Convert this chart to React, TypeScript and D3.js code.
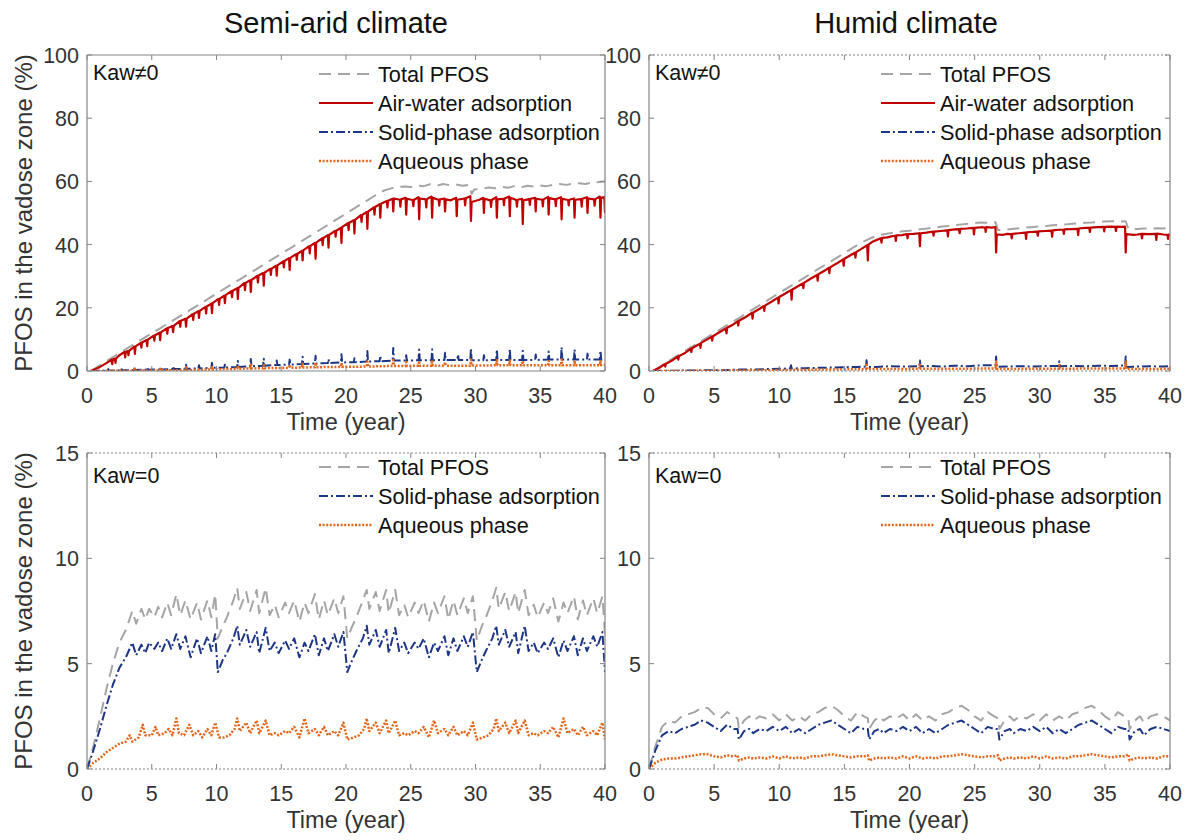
import React from "react";
import * as d3 from "d3";

type P = [number, number];

// ---------- tick labels ----------
const TIME_TICKS = [0, 5, 10, 15, 20, 25, 30, 35, 40];
const TOP_Y_TICKS = [0, 20, 40, 60, 80, 100];
const BOT_Y_TICKS = [0, 5, 10, 15];

// ---------- Semi-arid, Kaw != 0 ----------
const SA_K_TOTAL: P[] = [[0.3,0],[1,1.8],[2,4.4],[3,6.9],[4,9.4],[5,11.9],[6,14.4],[7,16.9],[8,19.4],[9,21.9],[10,24.5],[11,27.0],[12,29.5],[13,32.0],[14,34.6],[15,37.1],[16,39.6],[17,42.2],[18,44.7],[19,47.3],[20,49.8],[21,52.4],[22,54.9],[22.5,56.2],[23,57.2],[23.5,57.8],[24,58.2],[24.5,58.4],[25,58.2],[25.5,58.7],[26,58.5],[26.5,59.1],[27,58.6],[27.5,59.2],[28,58.8],[28.5,59.0],[29,58.6],[29.5,58.9],[29.7,56.0],[29.9,57.4],[30.5,57.6],[31,58.1],[31.5,57.8],[32,58.3],[32.5,58.0],[33,58.5],[33.5,58.1],[34,58.6],[34.5,58.4],[35,58.7],[35.5,58.5],[36,58.9],[36.5,59.2],[37,58.9],[37.5,59.3],[38,59.4],[38.5,59.2],[39,59.6],[39.5,59.8],[40,60.0]];
const SA_K_AIR: P[] = [[0.3,0],[1,1.3],[1.5,2.5],[1.9,3.6],[1.95,2.2],[2.0,3.7],[2.15,3.9],[2.2,2.6],[2.25,4.0],[2.5,5.0],[2.9,6.0],[2.95,4.3],[3.0,6.1],[3.15,6.3],[3.2,5.0],[3.25,6.4],[3.65,7.7],[3.7,5.4],[3.75,7.8],[4.15,8.9],[4.2,7.4],[4.25,9.0],[4.6,9.8],[4.65,7.9],[4.7,9.9],[5.15,11.2],[5.2,9.6],[5.25,11.3],[5.6,12.1],[5.65,9.8],[5.7,12.2],[6.15,13.5],[6.2,11.8],[6.25,13.6],[6.6,14.2],[6.65,12.3],[6.7,14.3],[7.15,15.8],[7.2,14.0],[7.25,15.9],[7.6,16.5],[7.65,14.0],[7.7,16.6],[8.15,18.0],[8.2,16.2],[8.25,18.1],[8.6,18.9],[8.65,16.8],[8.7,19.0],[9.15,20.3],[9.2,18.2],[9.25,20.4],[9.6,21.3],[9.65,18.3],[9.7,21.5],[10.15,22.8],[10.2,20.9],[10.25,22.9],[10.6,23.8],[10.65,21.5],[10.7,24.0],[11.15,25.3],[11.2,23.4],[11.25,25.4],[11.6,26.2],[11.65,22.8],[11.7,26.3],[12.15,27.8],[12.2,25.6],[12.25,27.9],[12.6,28.7],[12.65,25.0],[12.7,28.8],[13.15,30.1],[13.2,28.0],[13.25,30.2],[13.6,31.0],[13.65,27.0],[13.7,31.1],[14.15,32.3],[14.2,30.4],[14.25,32.4],[14.6,33.3],[14.65,30.2],[14.7,33.4],[15.15,34.7],[15.2,32.8],[15.25,34.8],[15.6,35.7],[15.65,32.0],[15.7,35.8],[16.15,37.0],[16.2,35.2],[16.25,37.1],[16.6,38.0],[16.65,35.0],[16.7,38.2],[17.15,39.5],[17.2,37.2],[17.25,39.6],[17.6,40.5],[17.65,35.5],[17.7,40.6],[18.15,42.0],[18.2,39.8],[18.25,42.1],[18.6,43.0],[18.65,39.0],[18.7,43.1],[19.15,44.3],[19.2,42.5],[19.25,44.4],[19.6,45.3],[19.65,40.5],[19.7,45.5],[20.15,46.8],[20.2,44.6],[20.25,46.9],[20.6,47.7],[20.65,43.5],[20.7,47.8],[21.15,49.3],[21.2,47.2],[21.25,49.4],[21.6,50.3],[21.65,45.0],[21.7,50.4],[22.15,51.8],[22.2,49.5],[22.25,51.9],[22.6,52.8],[22.65,48.5],[22.7,52.9],[23.15,53.8],[23.2,51.8],[23.25,53.9],[23.6,54.5],[23.65,50.5],[23.7,54.6],[24.15,54.2],[24.2,52.0],[24.25,54.3],[24.6,54.8],[24.65,49.5],[24.7,54.5],[25.15,54.1],[25.2,52.2],[25.25,54.2],[25.6,55.0],[25.65,48.0],[25.7,54.6],[26.15,54.3],[26.2,51.8],[26.25,54.4],[26.6,55.2],[26.65,48.5],[26.7,54.8],[27.15,54.2],[27.2,52.3],[27.25,54.3],[27.6,54.6],[27.65,50.5],[27.7,54.3],[28.1,54.0],[28.5,54.8],[28.55,49.0],[28.6,54.2],[29.15,54.6],[29.2,52.4],[29.25,54.7],[29.6,55.3],[29.65,47.5],[29.7,53.5],[30.3,54.2],[30.6,54.8],[30.65,50.0],[30.7,54.5],[31.15,54.0],[31.2,51.9],[31.25,54.1],[31.6,55.0],[31.65,48.5],[31.7,54.3],[32.15,54.5],[32.2,52.5],[32.25,54.6],[32.6,55.2],[32.65,49.0],[32.7,54.8],[33.15,54.1],[33.2,52.0],[33.25,54.2],[33.6,54.5],[33.65,46.5],[33.7,54.0],[34.15,54.4],[34.2,52.6],[34.25,54.5],[34.6,54.8],[34.65,50.5],[34.7,54.5],[35.15,54.2],[35.2,52.1],[35.25,54.3],[35.6,55.1],[35.65,49.5],[35.7,54.7],[36.15,54.3],[36.2,52.2],[36.25,54.4],[36.6,55.0],[36.65,48.0],[36.7,54.5],[37.15,54.1],[37.2,52.4],[37.25,54.2],[37.6,54.6],[37.65,48.5],[37.7,54.2],[38.15,54.4],[38.2,52.0],[38.25,54.5],[38.6,55.0],[38.65,50.0],[38.7,54.6],[39.15,54.3],[39.2,52.3],[39.25,54.4],[39.6,55.2],[39.65,48.5],[39.7,54.8],[39.95,55.0],[40,50.0]];
const SA_K_SOLID: P[] = [[0.3,0],[1,0.1],[1.6,0.1],[1.65,0.6],[1.7,0.1],[2.6,0.2],[2.65,0.8],[2.7,0.2],[3.6,0.3],[3.65,1.2],[3.7,0.3],[4.6,0.4],[4.65,1.1],[4.7,0.4],[5.6,0.5],[5.65,1.3],[5.7,0.5],[6.6,0.6],[6.65,1.5],[6.7,0.6],[7.6,0.7],[7.65,2.0],[7.7,0.7],[8.6,0.8],[8.65,1.8],[8.7,0.8],[9.6,1.0],[9.65,2.6],[9.7,1.0],[10.6,1.1],[10.65,2.0],[10.7,1.1],[11.6,1.3],[11.65,3.2],[11.7,1.3],[12.6,1.5],[12.65,3.8],[12.7,1.5],[13.6,1.7],[13.65,3.9],[13.7,1.7],[14.6,1.9],[14.65,3.3],[14.7,1.9],[15.6,2.0],[15.65,3.6],[15.7,2.0],[16.6,2.2],[16.65,4.5],[16.7,2.2],[17.6,2.4],[17.65,4.8],[17.7,2.4],[18.6,2.5],[18.65,3.8],[18.7,2.5],[19.6,2.7],[19.65,5.3],[19.7,2.7],[20.6,2.8],[20.65,4.0],[20.7,2.8],[21.6,3.0],[21.65,6.3],[21.7,3.0],[22.6,3.1],[22.65,4.8],[22.7,3.1],[23.6,3.3],[23.65,7.3],[23.7,3.3],[24.6,3.3],[24.65,5.0],[24.7,3.3],[25.6,3.4],[25.65,6.8],[25.7,3.4],[26.6,3.4],[26.65,6.9],[26.7,3.4],[27.6,3.5],[27.65,5.8],[27.7,3.5],[28.6,3.5],[28.65,5.2],[28.7,3.5],[29.6,3.5],[29.65,7.2],[29.7,3.4],[30.6,3.4],[30.65,5.0],[30.7,3.4],[31.6,3.5],[31.65,6.8],[31.7,3.5],[32.6,3.5],[32.65,7.0],[32.7,3.5],[33.6,3.5],[33.65,6.4],[33.7,3.5],[34.6,3.5],[34.65,5.2],[34.7,3.5],[35.6,3.6],[35.65,6.2],[35.7,3.6],[36.6,3.6],[36.65,7.5],[36.7,3.6],[37.6,3.6],[37.65,6.8],[37.7,3.6],[38.6,3.6],[38.65,5.5],[38.7,3.6],[39.6,3.6],[39.65,6.5],[39.7,3.6],[40,3.8]];
const SA_K_AQUEOUS: P[] = [[0.3,0],[2,0.05],[3.6,0.1],[3.65,0.7],[3.7,0.1],[5.6,0.2],[5.65,0.7],[5.7,0.2],[7.6,0.3],[7.65,1.1],[7.7,0.3],[9.6,0.5],[9.65,1.2],[9.7,0.5],[11.6,0.7],[11.65,1.7],[11.7,0.7],[12.6,0.8],[12.65,2.0],[12.7,0.8],[13.6,0.9],[13.65,1.8],[13.7,0.9],[15.6,1.0],[15.65,2.0],[15.7,1.0],[16.6,1.1],[16.65,2.4],[16.7,1.1],[17.6,1.2],[17.65,2.6],[17.7,1.2],[19.6,1.3],[19.65,2.6],[19.7,1.3],[21.6,1.4],[21.65,3.0],[21.7,1.4],[23.6,1.6],[23.65,3.5],[23.7,1.6],[24.6,1.6],[24.65,2.8],[24.7,1.6],[25.6,1.7],[25.65,3.2],[25.7,1.7],[26.6,1.7],[26.65,3.4],[26.7,1.7],[27.6,1.7],[27.65,2.8],[27.7,1.7],[29.6,1.7],[29.65,3.6],[29.7,1.7],[31.6,1.8],[31.65,3.4],[31.7,1.8],[32.6,1.8],[32.65,3.3],[32.7,1.8],[33.6,1.8],[33.65,3.2],[33.7,1.8],[35.6,1.8],[35.65,3.2],[35.7,1.8],[36.6,1.8],[36.65,3.7],[36.7,1.8],[37.6,1.8],[37.65,3.3],[37.7,1.8],[39.6,1.8],[39.65,3.2],[39.7,1.8],[40,2.0]];

// ---------- Humid, Kaw != 0 ----------
const HU_K_TOTAL: P[] = [[0.3,0],[1,1.8],[2,4.4],[3,6.9],[4,9.4],[5,12.0],[6,14.5],[7,17.0],[8,19.6],[9,22.1],[10,24.7],[11,27.2],[12,29.7],[13,32.3],[14,34.8],[15,37.3],[16,39.9],[16.5,41.0],[17,42.0],[17.5,42.8],[18,43.3],[18.5,43.6],[19,43.9],[19.5,44.2],[20,44.4],[20.5,44.7],[21,44.9],[21.5,45.2],[22,45.4],[22.5,45.7],[23,45.9],[23.5,46.2],[24,46.4],[24.5,46.6],[25,46.8],[25.5,47.0],[26,46.9],[26.6,47.1],[26.8,44.6],[27.5,44.8],[28,45.0],[28.5,45.2],[29,45.4],[29.5,45.6],[30,45.8],[30.5,45.9],[31,46.1],[31.5,46.3],[32,46.4],[32.5,46.6],[33,46.7],[33.5,46.9],[34,47.0],[34.5,47.2],[35,47.3],[35.5,47.4],[36,47.3],[36.6,47.4],[36.8,45.0],[37.5,44.9],[38,45.1],[38.5,45.0],[39,45.2],[39.5,45.1],[40,45.3]];
const HU_K_AIR: P[] = [[0.3,0],[0.8,1.0],[1.2,2.2],[1.25,1.4],[1.3,2.3],[1.8,3.4],[2.2,4.6],[2.25,3.6],[2.3,4.7],[2.8,5.8],[3.2,7.1],[3.25,6.0],[3.3,7.2],[3.8,8.4],[3.9,8.6],[3.95,7.3],[4.0,8.9],[4.5,10.1],[4.8,10.8],[4.85,9.6],[4.9,11.0],[5.5,12.5],[5.9,13.5],[5.95,11.9],[6.0,13.7],[6.5,14.8],[6.8,15.7],[6.85,14.4],[6.9,15.9],[7.4,17.0],[7.9,18.4],[7.95,16.6],[8.0,18.5],[8.5,19.7],[8.8,20.5],[8.85,19.0],[8.9,20.7],[9.4,21.9],[9.9,23.2],[9.95,21.4],[10.0,23.4],[10.5,24.6],[10.9,25.6],[10.95,22.6],[11.0,25.8],[11.5,27.0],[11.8,27.7],[11.85,26.2],[11.9,27.9],[12.4,29.2],[12.9,30.4],[12.95,28.6],[13.0,30.6],[13.5,31.8],[13.8,32.6],[13.85,31.0],[13.9,32.8],[14.4,34.0],[14.9,35.3],[14.95,33.3],[15.0,35.5],[15.5,36.7],[15.8,37.4],[15.85,35.9],[15.9,37.6],[16.4,38.9],[16.75,39.8],[16.8,35.0],[16.85,40.0],[17.2,41.0],[17.5,41.5],[17.8,42.0],[17.85,40.6],[17.9,42.1],[18.3,42.3],[18.6,42.6],[18.9,42.8],[18.95,41.2],[19.0,42.9],[19.4,43.0],[19.8,43.3],[19.85,42.0],[19.9,43.3],[20.3,43.4],[20.75,43.6],[20.8,39.5],[20.85,43.6],[21.3,43.8],[21.8,44.1],[21.85,42.8],[21.9,44.1],[22.4,44.3],[22.9,44.5],[22.95,42.6],[23.0,44.6],[23.5,44.8],[23.8,44.9],[23.85,43.6],[23.9,45.0],[24.4,45.1],[24.9,45.3],[24.95,43.2],[25.0,45.3],[25.5,45.5],[25.8,45.4],[25.85,44.0],[25.9,45.5],[26.3,45.4],[26.6,45.5],[26.65,37.5],[26.7,43.2],[27.2,43.1],[27.5,43.4],[27.8,43.3],[27.85,42.0],[27.9,43.4],[28.4,43.6],[28.9,43.8],[28.95,41.8],[29.0,43.9],[29.5,44.0],[29.8,44.1],[29.85,42.8],[29.9,44.2],[30.4,44.3],[30.9,44.4],[30.95,42.5],[31.0,44.5],[31.5,44.7],[31.8,44.7],[31.85,43.4],[31.9,44.8],[32.4,44.9],[32.9,45.0],[32.95,43.0],[33.0,45.1],[33.5,45.3],[33.8,45.3],[33.85,44.0],[33.9,45.4],[34.4,45.5],[34.9,45.6],[34.95,44.2],[35.0,45.6],[35.5,45.7],[35.8,45.6],[35.85,44.3],[35.9,45.7],[36.3,45.6],[36.55,45.7],[36.6,37.5],[36.65,43.3],[37.2,43.1],[37.5,43.2],[37.8,43.4],[37.85,42.0],[37.9,43.4],[38.4,43.3],[38.9,43.4],[38.95,41.5],[39.0,43.5],[39.5,43.2],[39.8,43.1],[39.85,41.8],[39.9,43.2],[40,43.0]];
const HU_K_SOLID: P[] = [[0.3,0],[2,0.1],[4,0.2],[6,0.3],[7,0.45],[8,0.5],[9,0.6],[10,0.7],[10.85,0.8],[10.9,1.8],[10.95,0.8],[12,0.9],[13,1.0],[14,1.1],[15,1.2],[16,1.3],[16.65,1.4],[16.7,3.4],[16.75,1.3],[17.5,1.3],[18.5,1.5],[19.5,1.4],[20.75,1.5],[20.8,3.3],[20.85,1.5],[21.5,1.6],[22.5,1.4],[23.5,1.7],[24.5,1.5],[25.5,1.8],[26.6,1.8],[26.65,4.6],[26.7,1.3],[27.5,1.4],[28.5,1.5],[29.5,1.4],[30.5,1.6],[31.45,1.6],[31.5,3.1],[31.55,1.5],[32.5,1.6],[33.5,1.5],[34.5,1.7],[35.5,1.6],[36.55,1.8],[36.6,4.6],[36.65,1.3],[37.5,1.4],[38.5,1.5],[39.5,1.4],[40,1.6]];
const HU_K_AQUEOUS: P[] = [[0.3,0],[5,0.1],[10,0.3],[12,0.4],[16.65,0.6],[16.7,2.5],[16.75,0.6],[18,0.6],[20.75,0.7],[20.8,2.0],[20.85,0.7],[23,0.7],[26.6,0.8],[26.65,3.0],[26.7,0.6],[29,0.7],[31.45,0.7],[31.5,1.9],[31.55,0.7],[34,0.8],[36.55,0.8],[36.6,3.0],[36.65,0.6],[38,0.6],[40,0.7]];

// ---------- Semi-arid, Kaw = 0 ----------
const SA_0_TOTAL: P[] = [[0,0],[0.5,1.1],[1,2.4],[1.5,3.8],[2,5.0],[2.5,6.0],[3,6.6],[3.5,7.5],[3.8,6.9],[4.2,7.6],[4.5,7.1],[4.8,7.6],[5.2,7.2],[5.5,7.7],[5.8,7.2],[6.2,7.9],[6.5,7.3],[6.9,8.3],[7.2,7.3],[7.6,8.0],[8,7.1],[8.5,7.9],[8.8,7.1],[9.3,8.0],[9.6,7.2],[9.9,8.3],[10.1,6.2],[10.5,6.8],[10.8,7.2],[11.3,8.0],[11.6,8.6],[11.8,7.6],[12.3,8.4],[12.6,7.5],[13.1,8.5],[13.3,7.4],[13.8,8.6],[14.1,7.3],[14.5,7.8],[14.8,7.2],[15.3,7.9],[15.6,7.4],[16,8.0],[16.4,7.0],[16.8,7.9],[17.1,7.4],[17.6,8.3],[17.9,7.1],[18.3,8.0],[18.6,7.3],[19.1,8.1],[19.4,7.4],[19.8,8.2],[20.1,6.2],[20.5,6.8],[20.8,7.2],[21.3,8.0],[21.6,8.5],[21.8,7.6],[22.3,8.4],[22.6,7.5],[23.1,8.5],[23.3,7.4],[23.8,8.5],[24.1,7.3],[24.5,7.8],[24.8,7.2],[25.3,7.9],[25.6,7.4],[26,8.0],[26.4,7.0],[26.8,7.9],[27.1,7.4],[27.6,8.2],[27.9,7.1],[28.3,8.0],[28.6,7.3],[29.1,8.1],[29.4,7.4],[29.8,8.2],[30.1,6.1],[30.5,6.8],[30.8,7.2],[31.3,8.0],[31.6,8.6],[31.8,7.6],[32.3,8.4],[32.6,7.5],[33.1,8.4],[33.3,7.4],[33.8,8.5],[34.1,7.3],[34.5,7.8],[34.8,7.2],[35.3,7.9],[35.6,7.4],[36,8.1],[36.4,7.0],[36.8,7.9],[37.1,7.4],[37.6,8.2],[37.9,7.1],[38.3,8.0],[38.6,7.3],[39.1,8.1],[39.4,7.4],[39.8,8.2],[40,6.4]];
const SA_0_SOLID: P[] = [[0,0],[0.5,0.9],[1,1.9],[1.5,3.0],[2,4.0],[2.5,4.8],[3,5.3],[3.5,6.0],[3.8,5.4],[4.2,5.9],[4.5,5.5],[4.8,6.0],[5.2,5.7],[5.5,6.0],[5.8,5.6],[6.2,6.2],[6.5,5.7],[6.9,6.4],[7.2,5.7],[7.6,6.3],[8,5.3],[8.5,6.2],[8.8,5.5],[9.3,6.3],[9.6,5.6],[9.9,6.4],[10.1,4.6],[10.5,5.2],[10.8,5.5],[11.3,6.2],[11.6,6.8],[11.8,5.9],[12.3,6.6],[12.6,5.8],[13.1,6.5],[13.3,5.5],[13.8,6.7],[14.1,5.6],[14.5,6.0],[14.8,5.5],[15.3,6.1],[15.6,5.7],[16,6.2],[16.4,5.3],[16.8,6.0],[17.1,5.6],[17.6,6.4],[17.9,5.4],[18.3,6.2],[18.6,5.6],[19.1,6.4],[19.4,5.8],[19.8,6.5],[20.1,4.6],[20.5,5.2],[20.8,5.6],[21.3,6.2],[21.6,6.8],[21.8,5.9],[22.3,6.6],[22.6,5.8],[23.1,6.6],[23.3,5.5],[23.8,6.7],[24.1,5.6],[24.5,6.0],[24.8,5.5],[25.3,6.0],[25.6,5.7],[26,6.2],[26.4,5.3],[26.8,6.0],[27.1,5.6],[27.6,6.3],[27.9,5.4],[28.3,6.2],[28.6,5.6],[29.1,6.3],[29.4,5.8],[29.8,6.5],[30.1,4.6],[30.5,5.2],[30.8,5.6],[31.3,6.2],[31.6,6.8],[31.8,5.9],[32.3,6.6],[32.6,5.8],[33.1,6.5],[33.3,5.5],[33.8,6.8],[34.1,5.6],[34.5,6.0],[34.8,5.5],[35.3,6.0],[35.6,5.7],[36,6.2],[36.4,5.3],[36.8,6.1],[37.1,5.6],[37.6,6.3],[37.9,5.4],[38.3,6.2],[38.6,5.6],[39.1,6.3],[39.4,5.8],[39.8,6.5],[40,4.6]];
const SA_0_AQUEOUS: P[] = [[0,0],[0.5,0.3],[1,0.5],[1.5,0.8],[2,1.0],[2.5,1.2],[3,1.3],[3.3,1.6],[3.5,1.3],[4,1.5],[4.3,2.1],[4.5,1.6],[5,1.6],[5.3,2.0],[5.5,1.6],[6,1.7],[6.3,1.9],[6.6,1.6],[6.9,2.4],[7.1,1.7],[7.5,1.6],[7.9,2.1],[8.2,1.6],[8.6,1.8],[8.9,1.5],[9.3,1.9],[9.6,1.6],[9.9,2.2],[10.2,1.5],[10.6,1.5],[11,1.6],[11.4,1.9],[11.6,2.4],[11.8,1.8],[12.3,2.2],[12.6,1.7],[13.1,2.3],[13.3,1.7],[13.8,2.3],[14.1,1.6],[14.5,1.7],[14.8,1.6],[15.3,1.8],[15.6,1.7],[16.0,2.0],[16.4,1.5],[16.8,2.4],[17.1,1.7],[17.6,1.9],[17.9,1.6],[18.3,2.0],[18.6,1.6],[19.1,1.8],[19.4,1.6],[19.8,2.2],[20.1,1.4],[20.6,1.5],[21,1.6],[21.4,1.9],[21.6,2.4],[21.8,1.8],[22.3,2.2],[22.6,1.7],[23.1,2.3],[23.3,1.7],[23.8,2.3],[24.1,1.6],[24.5,1.7],[24.8,1.6],[25.3,1.8],[25.6,1.7],[26.0,2.0],[26.4,1.5],[26.8,2.3],[27.1,1.7],[27.6,1.9],[27.9,1.6],[28.3,2.0],[28.6,1.6],[29.1,1.8],[29.4,1.6],[29.8,2.2],[30.1,1.4],[30.6,1.5],[31,1.6],[31.4,1.9],[31.6,2.4],[31.8,1.8],[32.3,2.2],[32.6,1.7],[33.1,2.3],[33.3,1.7],[33.8,2.3],[34.1,1.6],[34.5,1.7],[34.8,1.6],[35.3,1.8],[35.6,1.7],[36.0,2.0],[36.4,1.5],[36.8,2.4],[37.1,1.7],[37.6,1.9],[37.9,1.6],[38.3,2.0],[38.6,1.6],[39.1,1.8],[39.4,1.6],[39.8,2.2],[40,1.4]];

// ---------- Humid, Kaw = 0 ----------
const HU_0_TOTAL: P[] = [[0,0],[0.5,1.1],[1,2.0],[1.5,2.3],[2,2.2],[2.5,2.5],[3,2.6],[3.5,2.7],[4,2.9],[4.5,2.9],[5,2.6],[5.5,2.4],[6,2.7],[6.5,2.5],[6.8,2.4],[6.9,1.9],[7.3,2.3],[7.7,2.5],[8,2.3],[8.5,2.5],[9,2.4],[9.5,2.6],[10,2.3],[10.5,2.6],[11,2.3],[11.5,2.5],[12,2.3],[12.5,2.6],[13,2.7],[13.5,2.9],[14,3.0],[14.5,2.8],[15,2.5],[15.5,2.3],[16,2.7],[16.5,2.5],[16.8,2.4],[16.9,1.9],[17.3,2.3],[17.7,2.5],[18,2.3],[18.5,2.5],[19,2.4],[19.5,2.6],[20,2.3],[20.5,2.6],[21,2.3],[21.5,2.5],[22,2.3],[22.5,2.6],[23,2.7],[23.5,2.9],[24,3.0],[24.5,2.8],[25,2.5],[25.5,2.3],[26,2.7],[26.5,2.5],[26.8,2.4],[26.9,1.9],[27.3,2.3],[27.7,2.5],[28,2.3],[28.5,2.5],[29,2.4],[29.5,2.6],[30,2.3],[30.5,2.6],[31,2.3],[31.5,2.5],[32,2.3],[32.5,2.6],[33,2.7],[33.5,2.9],[34,3.0],[34.5,2.8],[35,2.5],[35.5,2.3],[36,2.7],[36.5,2.5],[36.8,2.4],[36.9,1.9],[37.3,2.3],[37.7,2.5],[38,2.2],[38.5,2.5],[39,2.6],[39.5,2.5],[40,2.3]];
const HU_0_SOLID: P[] = [[0,0],[0.5,0.9],[1,1.6],[1.5,1.8],[2,1.7],[2.5,1.9],[3,2.0],[3.5,2.1],[4,2.3],[4.5,2.2],[5,2.0],[5.5,1.8],[6,2.1],[6.5,1.9],[6.8,1.9],[6.9,1.4],[7.3,1.8],[7.7,1.9],[8,1.7],[8.5,1.9],[9,1.8],[9.5,2.0],[10,1.8],[10.5,2.0],[11,1.7],[11.5,1.9],[12,1.7],[12.5,1.9],[13,2.1],[13.5,2.2],[14,2.3],[14.5,2.1],[15,1.9],[15.5,1.7],[16,2.0],[16.5,1.9],[16.8,1.9],[16.9,1.4],[17.3,1.8],[17.7,1.9],[18,1.7],[18.5,1.9],[19,1.8],[19.5,2.0],[20,1.8],[20.5,2.0],[21,1.7],[21.5,1.9],[22,1.7],[22.5,1.9],[23,2.1],[23.5,2.2],[24,2.3],[24.5,2.1],[25,1.9],[25.5,1.7],[26,2.0],[26.5,1.9],[26.8,1.9],[26.9,1.4],[27.3,1.8],[27.7,1.9],[28,1.7],[28.5,1.9],[29,1.8],[29.5,2.0],[30,1.8],[30.5,2.0],[31,1.7],[31.5,1.9],[32,1.7],[32.5,1.9],[33,2.1],[33.5,2.2],[34,2.3],[34.5,2.1],[35,1.9],[35.5,1.7],[36,2.0],[36.5,1.9],[36.8,1.9],[36.9,1.4],[37.3,1.8],[37.7,1.9],[38,1.6],[38.5,1.9],[39,2.0],[39.5,1.9],[40,1.8]];
const HU_0_AQUEOUS: P[] = [[0,0],[0.5,0.3],[1,0.45],[1.5,0.5],[2,0.5],[2.5,0.55],[3,0.6],[3.5,0.65],[4,0.7],[4.5,0.7],[5,0.6],[5.5,0.55],[6,0.65],[6.5,0.6],[6.8,0.65],[6.9,0.4],[7.3,0.5],[7.7,0.55],[8,0.5],[8.5,0.55],[9,0.5],[9.5,0.6],[10,0.5],[10.5,0.6],[11,0.5],[11.5,0.55],[12,0.5],[12.5,0.6],[13,0.6],[13.5,0.65],[14,0.7],[14.5,0.65],[15,0.6],[15.5,0.55],[16,0.6],[16.5,0.6],[16.8,0.65],[16.9,0.4],[17.3,0.5],[17.7,0.55],[18,0.5],[18.5,0.55],[19,0.5],[19.5,0.6],[20,0.5],[20.5,0.6],[21,0.5],[21.5,0.55],[22,0.5],[22.5,0.6],[23,0.6],[23.5,0.65],[24,0.7],[24.5,0.65],[25,0.6],[25.5,0.55],[26,0.6],[26.5,0.6],[26.8,0.65],[26.9,0.4],[27.3,0.5],[27.7,0.55],[28,0.5],[28.5,0.55],[29,0.5],[29.5,0.6],[30,0.5],[30.5,0.6],[31,0.5],[31.5,0.55],[32,0.5],[32.5,0.6],[33,0.6],[33.5,0.65],[34,0.7],[34.5,0.65],[35,0.6],[35.5,0.55],[36,0.6],[36.5,0.6],[36.8,0.7],[36.9,0.4],[37.3,0.5],[37.7,0.55],[38,0.5],[38.5,0.55],[39,0.5],[39.5,0.6],[40,0.6]];

// ---------- styles ----------
const FONT = "'Liberation Sans', Arial, Helvetica, sans-serif";
const STYLES: Record<string, { color: string; width: number; dash?: string; label: string }> = {
  total: { color: "#a5a5a5", width: 2, dash: "12,7", label: "Total PFOS" },
  air: { color: "#c00000", width: 2.2, label: "Air-water adsorption" },
  solid: { color: "#1d3585", width: 2, dash: "9,3,2,3", label: "Solid-phase adsorption" },
  aqueous: { color: "#e2661c", width: 2.5, dash: "2,1.6", label: "Aqueous phase" },
};

type PanelProps = {
  id: string;
  left: number; right: number; top: number; bottom: number;
  yMax: number; yTicks: number[];
  series: { key: string; data: P[] }[];
  kaw: string; kawY: number;
  legendY0: number;
  yLabel: boolean;
  topSolid: boolean; bottomSolid: boolean;
};

function Panel(p: PanelProps) {
  const x = d3.scaleLinear().domain([0, 40]).range([p.left, p.right]);
  const y = d3.scaleLinear().domain([0, p.yMax]).range([p.bottom, p.top]);
  const line = d3.line<P>().x((d) => x(d[0])).y((d) => y(d[1]));
  const axisColor = "#858585";
  const tickLen = 5;
  const lx0 = p.left + 232, lx1 = p.left + 286, ltx = p.left + 291;
  return (
    <g>
      <defs>
        <clipPath id={p.id}>
          <rect x={p.left} y={p.top} width={p.right - p.left} height={p.bottom - p.top} />
        </clipPath>
      </defs>
      <rect x={p.left} y={p.top} width={p.right - p.left} height={p.bottom - p.top} fill="#fff" />
      <g clipPath={`url(#${p.id})`}>
        {p.series.map((s) => {
          const st = STYLES[s.key];
          return (
            <path key={s.key} d={line(s.data) || ""} fill="none" stroke={st.color}
              strokeWidth={st.width} strokeDasharray={st.dash} strokeLinejoin="round" />
          );
        })}
      </g>
      <line x1={p.left} x2={p.right} y1={p.top} y2={p.top} stroke={axisColor}
        strokeWidth={1} strokeDasharray={p.topSolid ? undefined : "2,2"} />
      <line x1={p.left} x2={p.right} y1={p.bottom} y2={p.bottom} stroke={axisColor}
        strokeWidth={1} strokeDasharray={p.bottomSolid ? undefined : "2,2"} />
      <line x1={p.left} x2={p.left} y1={p.top} y2={p.bottom} stroke={axisColor} strokeWidth={1.2} />
      <line x1={p.right} x2={p.right} y1={p.top} y2={p.bottom} stroke={axisColor} strokeWidth={1.2} />
      {TIME_TICKS.map((t) => (
        <g key={"xt" + t}>
          <line x1={x(t)} x2={x(t)} y1={p.bottom} y2={p.bottom - tickLen} stroke={axisColor} />
          <line x1={x(t)} x2={x(t)} y1={p.top} y2={p.top + tickLen} stroke={axisColor} />
          <text x={x(t)} y={p.bottom + 32} textAnchor="middle" fontSize={21.5} fill="#333" fontFamily={FONT}>{t}</text>
        </g>
      ))}
      {p.yTicks.map((t) => (
        <g key={"yt" + t}>
          <line x1={p.left} x2={p.left + tickLen} y1={y(t)} y2={y(t)} stroke={axisColor} />
          <line x1={p.right} x2={p.right - tickLen} y1={y(t)} y2={y(t)} stroke={axisColor} />
          <text x={p.left - 8} y={y(t) + 8} textAnchor="end" fontSize={21.5} fill="#333" fontFamily={FONT}>{t}</text>
        </g>
      ))}
      <text x={(p.left + p.right) / 2} y={p.bottom + 59} textAnchor="middle" fontSize={23.5} fill="#333" fontFamily={FONT}>Time (year)</text>
      {p.yLabel && (
        <text transform={`translate(32,${(p.top + p.bottom) / 2}) rotate(-90)`} textAnchor="middle" fontSize={24} fill="#333" fontFamily={FONT}>
          PFOS in the vadose zone (%)
        </text>
      )}
      <text x={p.left + 6} y={p.kawY} fontSize={21.5} fill="#111" fontFamily={FONT}>{p.kaw}</text>
      {p.series.map((s, i) => {
        const st = STYLES[s.key];
        const ly = p.legendY0 + i * 29;
        return (
          <g key={"lg" + s.key}>
            <line x1={lx0} x2={lx1} y1={ly} y2={ly} stroke={st.color} strokeWidth={st.width} strokeDasharray={st.dash} />
            <text x={ltx} y={ly + 7.5} fontSize={21.7} fill="#111" fontFamily={FONT}>{st.label}</text>
          </g>
        );
      })}
    </g>
  );
}

export default function App() {
  const L = { left: 87, right: 605 };
  const R = { left: 649, right: 1170 };
  const T = { top: 55, bottom: 371 };
  const B = { top: 453, bottom: 769 };
  return (
    <svg width={1196} height={840} style={{ position: "absolute", left: 0, top: 0, background: "#fff" }}>
      <rect width={1196} height={840} fill="#fff" />
      <text x={336} y={33} textAnchor="middle" fontSize={29} fill="#111" fontFamily={FONT}>Semi-arid climate</text>
      <text x={906} y={33} textAnchor="middle" fontSize={29} fill="#111" fontFamily={FONT}>Humid climate</text>
      <Panel id="c1" {...L} {...T} yMax={100} yTicks={TOP_Y_TICKS} kaw="Kaw≠0" kawY={80} legendY0={74}
        yLabel={true} topSolid={true} bottomSolid={true}
        series={[{ key: "total", data: SA_K_TOTAL }, { key: "air", data: SA_K_AIR }, { key: "solid", data: SA_K_SOLID }, { key: "aqueous", data: SA_K_AQUEOUS }]} />
      <Panel id="c2" {...R} {...T} yMax={100} yTicks={TOP_Y_TICKS} kaw="Kaw≠0" kawY={80} legendY0={74}
        yLabel={false} topSolid={false} bottomSolid={false}
        series={[{ key: "total", data: HU_K_TOTAL }, { key: "air", data: HU_K_AIR }, { key: "solid", data: HU_K_SOLID }, { key: "aqueous", data: HU_K_AQUEOUS }]} />
      <Panel id="c3" {...L} {...B} yMax={15} yTicks={BOT_Y_TICKS} kaw="Kaw=0" kawY={483} legendY0={467}
        yLabel={true} topSolid={false} bottomSolid={false}
        series={[{ key: "total", data: SA_0_TOTAL }, { key: "solid", data: SA_0_SOLID }, { key: "aqueous", data: SA_0_AQUEOUS }]} />
      <Panel id="c4" {...R} {...B} yMax={15} yTicks={BOT_Y_TICKS} kaw="Kaw=0" kawY={483} legendY0={467}
        yLabel={false} topSolid={false} bottomSolid={false}
        series={[{ key: "total", data: HU_0_TOTAL }, { key: "solid", data: HU_0_SOLID }, { key: "aqueous", data: HU_0_AQUEOUS }]} />
    </svg>
  );
}
